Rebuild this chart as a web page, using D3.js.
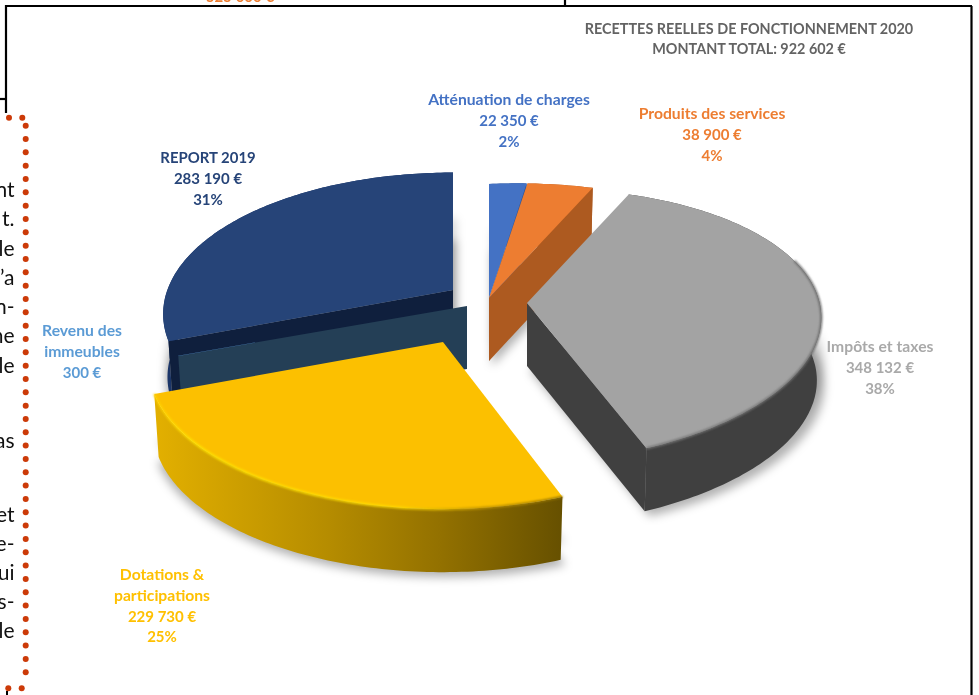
<!DOCTYPE html>
<html><head><meta charset="utf-8">
<script src="https://cdn.jsdelivr.net/npm/d3@7/dist/d3.min.js"></script>
<style>html,body{margin:0;padding:0;background:#fff;overflow:hidden}text{font-family:Lato,"Open Sans",sans-serif}</style>
</head><body><svg id="c" width="979" height="695"></svg>
<script>
const categories=["Atténuation de charges","Produits des services","Impôts et taxes","Dotations & participations","Revenu des immeubles","REPORT 2019"];
const values=[22350,38900,348132,229730,300,283190];
const percents=["2%","4%","38%","25%","","31%"];
const titleLines=["RECETTES REELLES DE FONCTIONNEMENT 2020","MONTANT TOTAL: 922 602 €"];
const sideText=[["nt",197],["t.",226],["le",256],["’a",285],["n-",314],["ne",343],["le",373],["as",448],["et",522],["e-",551],["ui",580],["s-",609],["le",638]];

const topColors=["#4472c4","#ed7d31","#a3a3a3","#fcc000","#5b9bd5","#264478"];
const labelColors=["#4472c4","#ed7d31","#a9a9a9","#ffc000","#5b9bd5","#264478"];
const faceColors=["#2f5596","#ad5a20","#404040","#8a6a00","#243f56","#0f1f3d"];
const wallColors=["#2f5596","#ad5a20","#404040","url(#yw)","#243f56","#1b3568"];
const rimColors=[null,null,"url(#gr)","url(#yr)",null,null];
const origins=[[489,298],[489,298],[527,303],[443,342],[467,306],[453,290]];
const scaleX=[1,1.02,1,1,1,.985];
const scaleY=[1,1,1,1.04,1,1.03];
const shear=[.045,.045,.03,0,0,0];
const labelPos=[[509,105],[712,119],[880,352],[162,580],[82,336],[208,163]];
const nameSize=[15.7,15.7,15.7,15.7,15.7,14.9];
const order=[5,4,0,1,2,3];
const DEPTH=63,RX=290,RY=133.4,P=0.17,TAPER=.985;

const svg=d3.select("#c");
const defs=svg.append("defs");
function grad(id,x1,x2,stops){const g=defs.append("linearGradient").attr("id",id).attr("gradientUnits","userSpaceOnUse").attr("x1",x1).attr("x2",x2).attr("y1",0).attr("y2",0);
 stops.forEach(s=>g.append("stop").attr("offset",s[0]).attr("stop-color",s[1]));}
grad("yw",153,563,[[0,"#e3b000"],[.43,"#b58c00"],[.7,"#937100"],[1,"#665000"]]);
grad("yr",153,563,[[0,"#ffd000"],[.1,"#ffe400"],[.6,"#ffdc00"],[.8,"#c09400"],[1,"#8f7000"]]);
grad("gr",640,825,[[0,"#757575"],[.7,"#757575"],[1,"#6a6a6a"]]);
defs.append("filter").attr("id","soft").attr("x","-20%").attr("y","-20%").attr("width","140%").attr("height","140%").append("feGaussianBlur").attr("stdDeviation",5);
defs.append("filter").attr("id","rimb").attr("x","-5%").attr("y","-5%").attr("width","110%").attr("height","110%").append("feGaussianBlur").attr("stdDeviation",.9);

const pie=d3.pie().sort(null).startAngle(0).endAngle(2*Math.PI).value(d=>d);
const arcs=pie(values);
const proj=(i,a)=>{const o=origins[i],X=Math.sin(a),Y=-Math.cos(a),w=1-P*Y,sx=RX*X/w*scaleX[i],sy=RY*Y/w*scaleY[i]-shear[i]*RX*X/w;return [o[0]+sx,o[1]+sy];};
const angles=(d,from=d.startAngle)=>{const n=Math.max(2,Math.ceil((d.endAngle-from)*60));return d3.range(n+1).map(k=>from+(d.endAngle-from)*k/n);};
const line=d3.line();
const down=(i,pts,h)=>pts.map(p=>[origins[i][0]+(p[0]-origins[i][0])*(h===DEPTH?TAPER:1),p[1]+h]);

const gShadow=svg.append("g").attr("filter","url(#soft)");
order.forEach(i=>{const d=arcs[i],o=origins[i];if(values[i]<1000)return;
 const w=[o,...angles(d).map(a=>proj(i,a))];
 [[46,.16],[68,.30]].forEach(s=>gShadow.append("path").attr("d",line(w.map(p=>[p[0]+3,p[1]+s[0]]))+"Z").attr("fill","#000").attr("opacity",s[1]));
});

order.forEach(i=>{const d=arcs[i],o=origins[i],rim=angles(d).map(a=>proj(i,a)),g=svg.append("g");
 g.append("path").attr("d",line([...rim,...down(i,rim,DEPTH).reverse()])+"Z").attr("fill",wallColors[i]);
 const face=a=>{const q=proj(i,a),b=down(i,[q],DEPTH)[0];g.append("path").attr("d",line([o,q,b,[o[0],o[1]+DEPTH]])+"Z").attr("fill",faceColors[i]);};
 if(-Math.cos(d.startAngle-Math.PI/2)>.02)face(d.startAngle);
 if(-Math.cos(d.endAngle+Math.PI/2)>.02)face(d.endAngle);
 g.append("path").attr("d",line([o,...rim])+"Z").attr("fill",topColors[i]);
 if(rimColors[i]){const from=i===2?Math.max(d.startAngle,1.3):d.startAngle;
  g.append("path").attr("d",line(angles(d,from).map(a=>proj(i,a)))).attr("fill","none").attr("stroke",rimColors[i]).attr("stroke-width",2.2).attr("filter","url(#rimb)");}
});

const money=d3.formatLocale({decimal:",",thousands:" ",grouping:[3],currency:[""," €"]}).format("$,");
const wrap={3:["Dotations &","participations"],4:["Revenu des","immeubles"]};
categories.forEach((c,i)=>{const names=wrap[i]||[c];const lines=[...names,money(values[i]),percents[i]].filter(Boolean);
 const t=svg.append("text").attr("text-anchor","middle").attr("font-weight",700).attr("fill",labelColors[i]);
 lines.forEach((l,k)=>t.append("tspan").attr("x",labelPos[i][0]).attr("y",labelPos[i][1]+k*20.8).attr("font-size",k<names.length?nameSize[i]:15).text(l));});
titleLines.forEach((l,k)=>svg.append("text").attr("x",749).attr("y",34+k*20).attr("text-anchor","middle").attr("font-weight",700).attr("font-size",14.4).attr("fill","#636363").text(l));

svg.append("text").attr("x",240).attr("y",2).attr("text-anchor","middle").attr("font-weight",700).attr("font-size",15).attr("fill","#ed7d31").text("525 000 €");
const frame=[[[6,113],[6,6],[972,6]],[[0,99],[6,99]],[[565,0],[565,6]],[[971.5,6],[971.5,695]]];
frame.forEach(f=>svg.append("path").attr("d",line(f)).attr("fill","none").attr("stroke","#000").attr("stroke-width",2.2));
sideText.forEach(s=>svg.append("text").attr("x",14.5).attr("y",s[1]).attr("text-anchor","end").attr("font-size",21).attr("fill","#111").text(s[0]));
const dots=[[9,117.7],[22.3,117.7],...d3.range(42).map(k=>[25.7,125.7+k*13.33]),[21.7,688.3],[8.3,688.3]];
svg.append("g").selectAll("circle").data(dots).join("circle").attr("cx",d=>d[0]).attr("cy",d=>d[1]).attr("r",3).attr("fill","#cc3a08");
svg.append("path").attr("d",line([[7,691],[7,695]])).attr("stroke","#000").attr("stroke-width",2);
</script></body></html>
